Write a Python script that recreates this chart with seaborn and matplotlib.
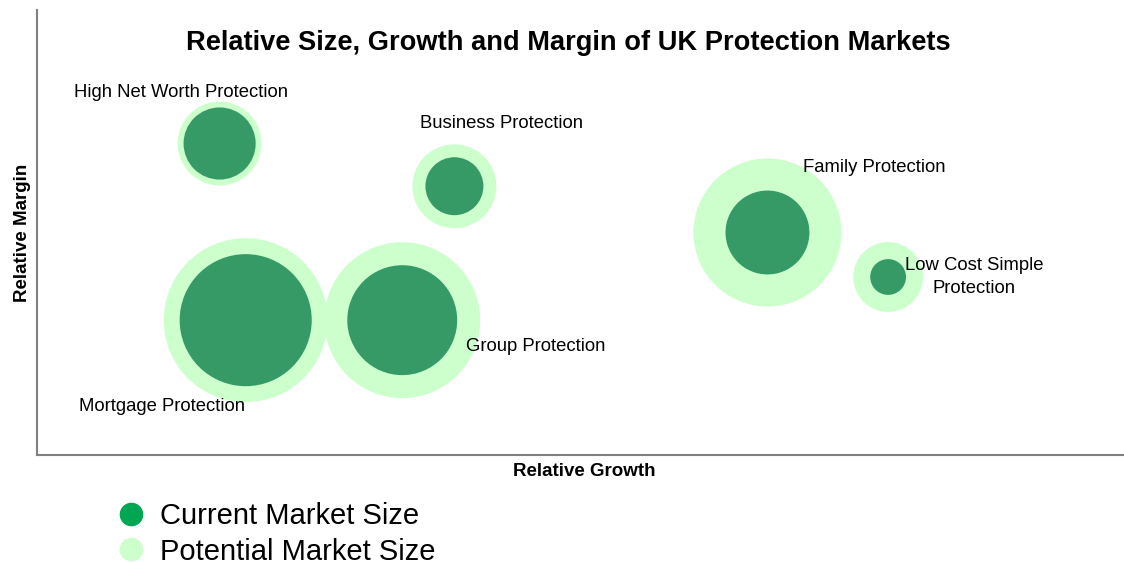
import matplotlib
matplotlib.use("Agg")
import matplotlib.pyplot as plt
from matplotlib.lines import Line2D
import seaborn as sns
import pandas as pd

# Market data: growth (x), margin (y), current and potential size
markets = ["High Net Worth Protection", "Business Protection", "Family Protection",
           "Low Cost Simple\nProtection", "Mortgage Protection", "Group Protection"]
growth = [1.68, 3.84, 6.72, 7.83, 1.92, 3.36]
margin = [7.00, 6.04, 5.00, 4.00, 3.03, 3.03]
current_size = [1.30, 0.84, 1.76, 0.32, 4.36, 3.02]
potential_size = [1.76, 1.76, 5.48, 1.22, 6.72, 6.08]

# Label offsets from each bubble centre (points)
label_offsets = [(-28, 37), (34, 45), (77, 47), (62, 0), (-60, -62), (96, -19)]

title = "Relative Size, Growth and Margin of UK Protection Markets"
legend_labels = ["Current Market Size", "Potential Market Size"]

dark_green = "#359A66"
legend_dark = "#00A651"
light_green = "#CCFFCC"

sns.set_theme(style="white")
plt.rcParams["font.family"] = ["Liberation Sans", "DejaVu Sans"]

df = pd.DataFrame({"market": markets, "growth": growth, "margin": margin,
                   "current": current_size, "potential": potential_size})

fig = plt.figure(figsize=(11.24, 5.62), dpi=100)
ax = fig.add_axes([37 / 1124, 107 / 562, 1087 / 1124, 445 / 562])

size_max = 7.0
size_range = (0, 2073.6 * size_max)

sns.scatterplot(data=df, x="growth", y="margin", size="potential",
                sizes=size_range, size_norm=(0, size_max),
                color=light_green, linewidth=0, alpha=1, legend=False,
                ax=ax, clip_on=False, zorder=2)
sns.scatterplot(data=df, x="growth", y="margin", size="current",
                sizes=size_range, size_norm=(0, size_max),
                color=dark_green, linewidth=0, alpha=1, legend=False,
                ax=ax, clip_on=False, zorder=3)

for name, gx, my, off in zip(markets, growth, margin, label_offsets):
    ax.annotate(name, (gx, my), xytext=off, textcoords="offset points",
                ha="center", va="center", fontsize=13.3, color="#000000",
                linespacing=1.45, zorder=4)

ax.set_xlim(0, 10)
ax.set_ylim(0, 10)
ax.set_xticks([])
ax.set_yticks([])
for side in ["top", "right"]:
    ax.spines[side].set_visible(False)
for side in ["left", "bottom"]:
    ax.spines[side].set_color("#808080")
    ax.spines[side].set_linewidth(1.5)

ax.set_xlabel("Relative Growth", fontsize=13.5, fontweight="bold", color="#000000")
ax.set_ylabel("Relative Margin", fontsize=13.5, fontweight="bold", color="#000000")
ax.xaxis.set_label_coords(0.503, -0.017)
ax.yaxis.set_label_coords(-0.0055, 0.5)

ax.text(0.4885, 0.911, title, transform=ax.transAxes, ha="center", va="baseline",
        fontsize=19.6, fontweight="bold", color="#000000")

handles = [Line2D([], [], marker="o", linestyle="none", markersize=17,
                  markerfacecolor=legend_dark, markeredgewidth=0),
           Line2D([], [], marker="o", linestyle="none", markersize=17,
                  markerfacecolor=light_green, markeredgewidth=0)]
fig.legend(handles, legend_labels, loc="upper left", bbox_to_anchor=(116 / 1124, 1 - 502 / 562),
           frameon=False, fontsize=21, handlelength=1.0, handletextpad=0.5,
           labelspacing=0.26, borderpad=0, borderaxespad=0, labelcolor="#000000")

fig.savefig("out.png", dpi=100)
